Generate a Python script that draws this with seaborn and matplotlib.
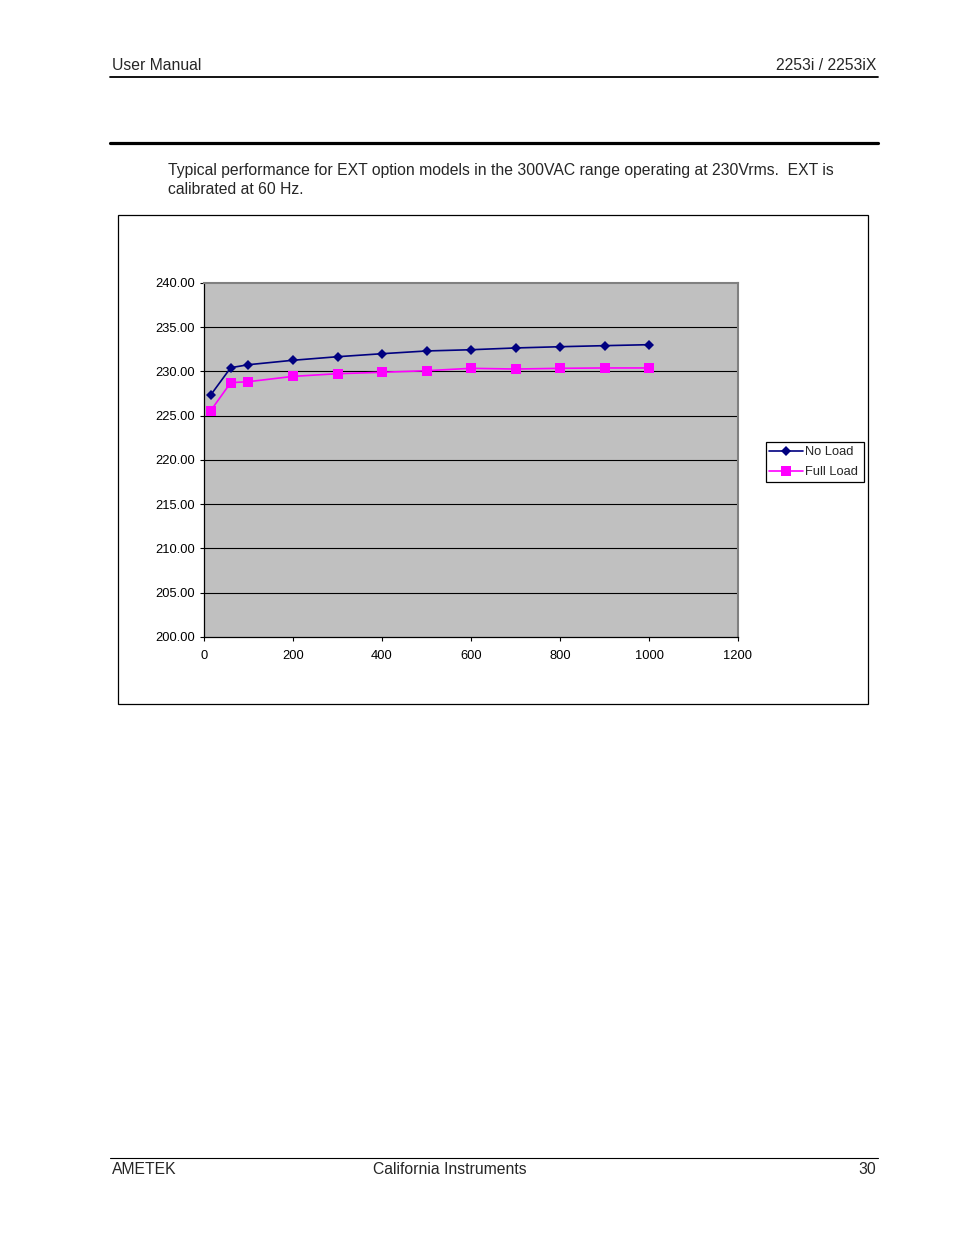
import matplotlib
matplotlib.use("Agg")
import matplotlib.pyplot as plt
import seaborn as sns
import pandas as pd
from matplotlib.patches import Rectangle
from matplotlib.lines import Line2D

# ---- data ----
load_x = [15, 60, 100, 200, 300, 400, 500, 600, 700, 800, 900, 1000]
no_load = [227.34, 230.43, 230.77, 231.27, 231.67, 232.01, 232.32, 232.46, 232.66, 232.80, 232.92, 233.03]
full_load = [225.57, 228.74, 228.85, 229.45, 229.75, 229.91, 230.09, 230.36, 230.28, 230.36, 230.40, 230.40]
series_names = ["No Load", "Full Load"]
y_ticks = [200, 205, 210, 215, 220, 225, 230, 235, 240]
x_ticks = [0, 200, 400, 600, 800, 1000, 1200]

df = pd.DataFrame({
    "x": load_x * 2,
    "y": no_load + full_load,
    "series": [series_names[0]] * len(load_x) + [series_names[1]] * len(load_x),
})

sns.set_theme(style="white")
plt.rcParams["font.family"] = ["Liberation Sans", "DejaVu Sans"]

W, H = 954, 1235
fig = plt.figure(figsize=(W / 100, H / 100), dpi=100)

def fx(px):
    return px / W

def fy(py):
    return 1 - py / H

# page header/footer
fig.text(fx(112), fy(65), "User Manual", fontsize=11.3, ha="left", va="center")
fig.text(fx(876), fy(65), "2253i / 2253iX", fontsize=11.3, ha="right", va="center")
fig.add_artist(Line2D([fx(110), fx(878)], [fy(77), fy(77)], color="black", lw=1.3))
fig.add_artist(Line2D([fx(110), fx(878)], [fy(142.5), fy(142.5)], color="black", lw=2.3))
fig.text(fx(168), fy(171), "Typical performance for EXT option models in the 300VAC range operating at 230Vrms.  EXT is",
         fontsize=11.3, ha="left", va="center")
fig.text(fx(168), fy(189), "calibrated at 60 Hz.", fontsize=11.3, ha="left", va="center")

fig.add_artist(Line2D([fx(110), fx(878)], [fy(1158), fy(1158)], color="black", lw=0.8))
fig.text(fx(112), fy(1170), "AMETEK", fontsize=11.3, ha="left", va="center")
fig.text(fx(373), fy(1170), "California Instruments", fontsize=11.3, ha="left", va="center")
fig.text(fx(876), fy(1170), "30", fontsize=11.3, ha="right", va="center")

# chart outer frame
fig.add_artist(Rectangle((fx(118.5), fy(703.5)), fx(868.5) - fx(118.5), fy(214.5) - fy(703.5),
                         transform=fig.transFigure, fill=False, edgecolor="black", lw=0.9))

ax = fig.add_axes([fx(204), fy(637), fx(738) - fx(204), fy(283) - fy(637)])
ax.set_facecolor("#C0C0C0")

sns.lineplot(data=df, x="x", y="y", hue="series", style="series",
             palette={"No Load": "#000080", "Full Load": "#FF00FF"},
             markers={"No Load": "D", "Full Load": "s"}, dashes=False,
             markersize=6, linewidth=1.2, markeredgewidth=0, ax=ax, legend=False)
for ln in ax.lines:
    if ln.get_marker() == "D":
        ln.set_markersize(5.5)
    else:
        ln.set_markersize(7)

ax.set_xlim(0, 1200)
ax.set_ylim(200, 240)
ax.set_xticks(x_ticks)
ax.set_yticks(y_ticks)
ax.set_xticklabels([str(v) for v in x_ticks])
ax.set_yticklabels([f"{v:.2f}" for v in y_ticks])
for v in y_ticks[1:-1]:
    ax.axhline(v, color="black", lw=0.8, zorder=1)
ax.set_xlabel("")
ax.set_ylabel("")
ax.tick_params(axis="both", which="both", direction="out", length=3, width=0.8,
               color="black", labelsize=9.3, labelcolor="black",
               bottom=True, left=True)
ax.tick_params(axis="y", pad=3.5)
ax.tick_params(axis="x", pad=6.5)
for side in ["top", "right"]:
    ax.spines[side].set_color("#808080")
    ax.spines[side].set_linewidth(1.5)
for side in ["left", "bottom"]:
    ax.spines[side].set_color("black")
    ax.spines[side].set_linewidth(0.9)

# legend (frame drawn separately)
fig.add_artist(Rectangle((fx(766.5), fy(481.5)), fx(864.5) - fx(766.5), fy(441.5) - fy(481.5),
                         transform=fig.transFigure, facecolor="white", edgecolor="black", lw=0.9))
handles = [Line2D([], [], color="#000080", marker="D", markersize=5, lw=1.2, markeredgewidth=0),
           Line2D([], [], color="#FF00FF", marker="s", markersize=6.5, lw=1.2, markeredgewidth=0)]
leg = fig.legend(handles, series_names, loc="upper left",
                 bbox_to_anchor=(fx(769), fy(446)), bbox_transform=fig.transFigure,
                 frameon=False, fontsize=9.3, handlelength=2.6,
                 handletextpad=0.15, borderpad=0, labelspacing=0.62, borderaxespad=0)

fig.savefig("out.png", dpi=100)
